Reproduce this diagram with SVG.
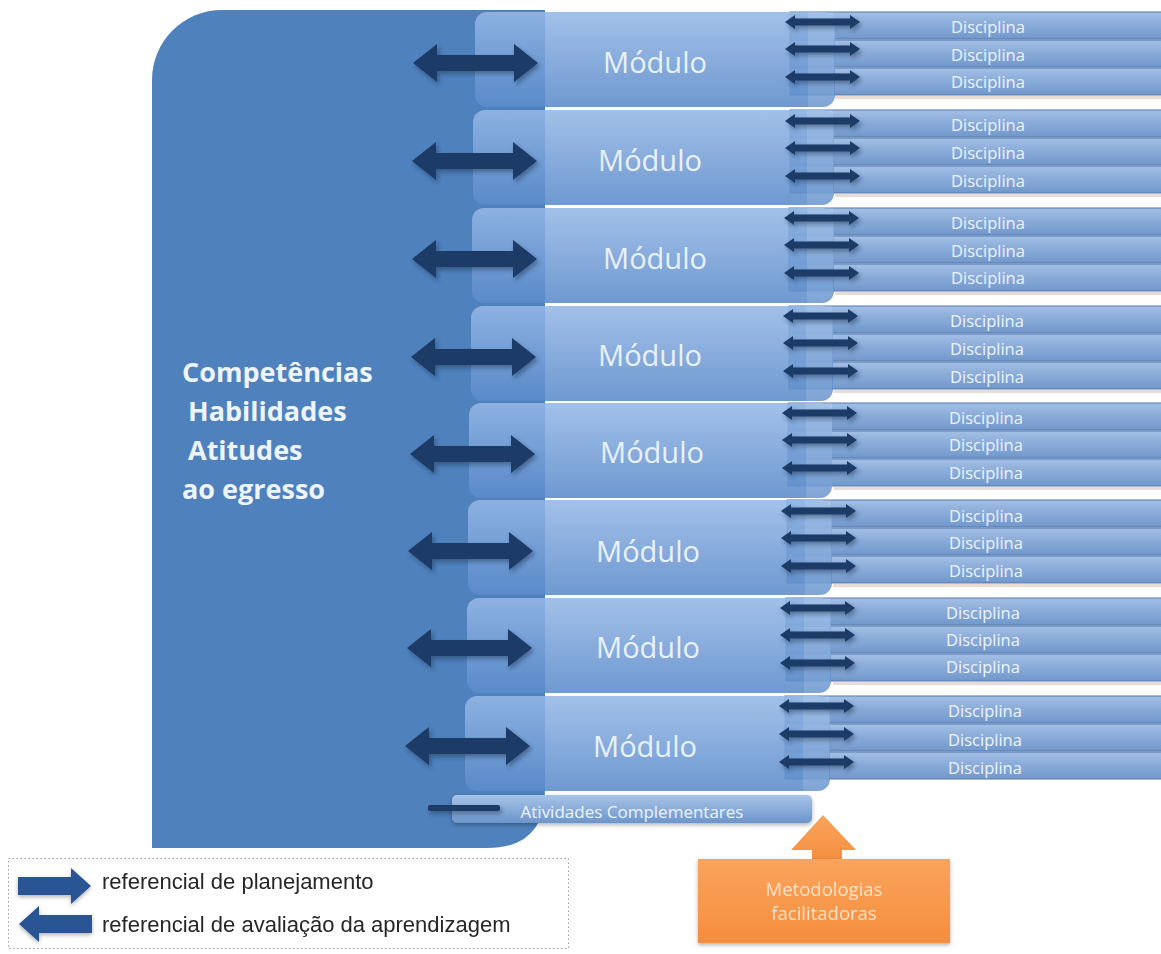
<svg xmlns="http://www.w3.org/2000/svg" xmlns:xlink="http://www.w3.org/1999/xlink" width="1161" height="954" viewBox="0 0 1161 954">
<defs>
<linearGradient id="gMod" x1="0" y1="0" x2="0" y2="1"><stop offset="0" stop-color="#95b8e6"/><stop offset="1" stop-color="#5b8bca"/></linearGradient>
<linearGradient id="gDis" x1="0" y1="0" x2="0" y2="1"><stop offset="0" stop-color="#a3c0e6"/><stop offset="0.5" stop-color="#88aad8"/><stop offset="1" stop-color="#7198cc"/></linearGradient>
<linearGradient id="gAt" x1="0" y1="0" x2="0" y2="1"><stop offset="0" stop-color="#a8c4e8"/><stop offset="1" stop-color="#6c95cb"/></linearGradient>
<linearGradient id="gOr" x1="0" y1="0" x2="0" y2="1"><stop offset="0" stop-color="#f9a45c"/><stop offset="1" stop-color="#f68e3e"/></linearGradient>
<filter id="sh" x="-20%" y="-50%" width="140%" height="220%"><feDropShadow dx="2" dy="3" stdDeviation="2" flood-color="#1a2a44" flood-opacity="0.45"/></filter>
<filter id="sh2" x="-10%" y="-20%" width="120%" height="150%"><feDropShadow dx="0" dy="2" stdDeviation="2" flood-color="#000" flood-opacity="0.3"/></filter>
<path id="bigArrow" d="M0,0 L24,-19 L24,-8 L101,-8 L101,-19 L125,0 L101,19 L101,8 L24,8 L24,19 Z"/>
<path id="smArrow" d="M0,0 L10,-7 L10,-3.5 L65,-3.5 L65,-7 L75,0 L65,7 L65,3.5 L10,3.5 L10,7 Z"/>
</defs>
<style>
.mod{fill:url(#gMod);opacity:0.88}
.band{fill:#ffffff;opacity:0.12}
.dis{fill:url(#gDis);stroke:#5479ae;stroke-width:1}
.gap{fill:#e9dcd5}
.big{fill:#1c3a66}
.sm{fill:#1c3a66}
.tMod{font-family:"Open Sans","DejaVu Sans",sans-serif;font-size:29px;fill:#e9f1fb;text-anchor:middle}
.tDis{font-family:"Open Sans","DejaVu Sans",sans-serif;font-size:16.5px;fill:#eef4fc;text-anchor:middle}
.tPan{font-family:"Open Sans","DejaVu Sans",sans-serif;font-size:27px;font-weight:bold;fill:#eef4fb}
.tLeg{font-family:"Liberation Sans",Arial,sans-serif;font-size:22px;fill:#262626}
.tOr{font-family:"Open Sans","DejaVu Sans",sans-serif;font-size:18.5px;fill:#fde3cc;text-anchor:middle}
.legA{fill:#2b5595}
</style>

<g id="panel">
<path d="M152,80 A70,70 0 0 1 222,10 L545,10 L545,790 Q545,848 487,848 L152,848 Z" fill="#4f81bd"/>
<text class="tPan" x="182" y="382">Competências</text>
<text class="tPan" x="188" y="421">Habilidades</text>
<text class="tPan" x="188" y="460">Atitudes</text>
<text class="tPan" x="182" y="499">ao egresso</text>
</g>

<g id="disciplinas">
<g id="d1"><rect class="gap" x="835" y="96" width="326" height="3"/><rect class="dis" x="790" y="12" width="380" height="27"/><rect class="dis" x="790" y="40" width="380" height="27"/><rect class="dis" x="790" y="68" width="380" height="27"/><text class="tDis" x="988" y="33">Disciplina</text><text class="tDis" x="988" y="61">Disciplina</text><text class="tDis" x="988" y="88">Disciplina</text></g>
<g id="d2"><rect class="gap" x="835" y="194" width="326" height="3"/><rect class="dis" x="790" y="110" width="380" height="27"/><rect class="dis" x="790" y="138" width="380" height="27"/><rect class="dis" x="790" y="166" width="380" height="27"/><text class="tDis" x="988" y="131">Disciplina</text><text class="tDis" x="988" y="159">Disciplina</text><text class="tDis" x="988" y="187">Disciplina</text></g>
<g id="d3"><rect class="gap" x="835" y="292" width="326" height="3"/><rect class="dis" x="789" y="208" width="380" height="27"/><rect class="dis" x="789" y="236" width="380" height="27"/><rect class="dis" x="789" y="264" width="380" height="27"/><text class="tDis" x="988" y="229">Disciplina</text><text class="tDis" x="988" y="257">Disciplina</text><text class="tDis" x="988" y="284">Disciplina</text></g>
<g id="d4"><rect class="gap" x="834" y="390" width="327" height="3"/><rect class="dis" x="789" y="306" width="380" height="27"/><rect class="dis" x="789" y="334" width="380" height="27"/><rect class="dis" x="789" y="362" width="380" height="27"/><text class="tDis" x="987" y="327">Disciplina</text><text class="tDis" x="987" y="355">Disciplina</text><text class="tDis" x="987" y="383">Disciplina</text></g>
<g id="d5"><rect class="gap" x="834" y="487" width="327" height="3"/><rect class="dis" x="788" y="403" width="380" height="27"/><rect class="dis" x="788" y="431" width="380" height="27"/><rect class="dis" x="788" y="459" width="380" height="27"/><text class="tDis" x="986" y="424">Disciplina</text><text class="tDis" x="986" y="451">Disciplina</text><text class="tDis" x="986" y="479">Disciplina</text></g>
<g id="d6"><rect class="gap" x="833" y="584" width="328" height="3"/><rect class="dis" x="787" y="500" width="380" height="27"/><rect class="dis" x="787" y="528" width="380" height="27"/><rect class="dis" x="787" y="556" width="380" height="27"/><text class="tDis" x="986" y="522">Disciplina</text><text class="tDis" x="986" y="549">Disciplina</text><text class="tDis" x="986" y="577">Disciplina</text></g>
<g id="d7"><rect class="gap" x="833" y="682" width="328" height="3"/><rect class="dis" x="786" y="598" width="380" height="27"/><rect class="dis" x="786" y="626" width="380" height="27"/><rect class="dis" x="786" y="654" width="380" height="27"/><text class="tDis" x="983" y="619">Disciplina</text><text class="tDis" x="983" y="646">Disciplina</text><text class="tDis" x="983" y="673">Disciplina</text></g>
<g id="d8"><rect class="dis" x="785" y="696" width="380" height="27"/><rect class="dis" x="785" y="724" width="380" height="27"/><rect class="dis" x="785" y="752" width="380" height="27"/><text class="tDis" x="985" y="717">Disciplina</text><text class="tDis" x="985" y="746">Disciplina</text><text class="tDis" x="985" y="774">Disciplina</text></g>
</g>

<g id="modulos">
<g id="m1"><rect class="mod" x="475" y="12" width="360" height="95" rx="12"/><rect class="band" x="808" y="12" width="26" height="95"/><text class="tMod" x="655" y="73">Módulo</text></g>
<g id="m2"><rect class="mod" x="473" y="110" width="361" height="95" rx="12"/><rect class="band" x="807" y="110" width="26" height="95"/><text class="tMod" x="650" y="171">Módulo</text></g>
<g id="m3"><rect class="mod" x="472" y="208" width="362" height="95" rx="12"/><rect class="band" x="807" y="208" width="26" height="95"/><text class="tMod" x="655" y="269">Módulo</text></g>
<g id="m4"><rect class="mod" x="471" y="306" width="362" height="95" rx="12"/><rect class="band" x="806" y="306" width="26" height="95"/><text class="tMod" x="650" y="366">Módulo</text></g>
<g id="m5"><rect class="mod" x="469" y="403" width="363" height="95" rx="12"/><rect class="band" x="806" y="403" width="26" height="95"/><text class="tMod" x="652" y="463">Módulo</text></g>
<g id="m6"><rect class="mod" x="468" y="500" width="364" height="95" rx="12"/><rect class="band" x="805" y="500" width="26" height="95"/><text class="tMod" x="648" y="562">Módulo</text></g>
<g id="m7"><rect class="mod" x="467" y="598" width="364" height="95" rx="12"/><rect class="band" x="804" y="598" width="26" height="95"/><text class="tMod" x="648" y="658">Módulo</text></g>
<g id="m8"><rect class="mod" x="465" y="696" width="365" height="95" rx="12"/><rect class="band" x="803" y="696" width="26" height="95"/><text class="tMod" x="645" y="757">Módulo</text></g>
</g>

<g id="atividades">
<rect x="452" y="795" width="360" height="28" rx="5" fill="url(#gAt)" filter="url(#sh2)"/>
<text class="tDis" x="632" y="818" style="font-size:17px">Atividades Complementares</text>
</g>

<g id="connectors" filter="url(#sh)">
<use href="#bigArrow" class="big" x="413" y="63"/>
<use href="#bigArrow" class="big" x="412" y="161"/>
<use href="#bigArrow" class="big" x="412" y="259"/>
<use href="#bigArrow" class="big" x="411" y="357"/>
<use href="#bigArrow" class="big" x="410" y="454"/>
<use href="#bigArrow" class="big" x="408" y="551"/>
<use href="#bigArrow" class="big" x="407" y="648"/>
<use href="#bigArrow" class="big" x="405" y="746"/>
<use href="#smArrow" class="sm" x="785" y="22"/><use href="#smArrow" class="sm" x="785" y="49"/><use href="#smArrow" class="sm" x="785" y="77"/>
<use href="#smArrow" class="sm" x="785" y="121"/><use href="#smArrow" class="sm" x="785" y="148"/><use href="#smArrow" class="sm" x="785" y="176"/>
<use href="#smArrow" class="sm" x="784" y="218"/><use href="#smArrow" class="sm" x="784" y="245"/><use href="#smArrow" class="sm" x="784" y="273"/>
<use href="#smArrow" class="sm" x="783" y="316"/><use href="#smArrow" class="sm" x="783" y="343"/><use href="#smArrow" class="sm" x="783" y="371"/>
<use href="#smArrow" class="sm" x="782" y="413"/><use href="#smArrow" class="sm" x="782" y="440"/><use href="#smArrow" class="sm" x="782" y="468"/>
<use href="#smArrow" class="sm" x="781" y="511"/><use href="#smArrow" class="sm" x="781" y="538"/><use href="#smArrow" class="sm" x="781" y="566"/>
<use href="#smArrow" class="sm" x="780" y="608"/><use href="#smArrow" class="sm" x="780" y="635"/><use href="#smArrow" class="sm" x="780" y="663"/>
<use href="#smArrow" class="sm" x="779" y="706"/><use href="#smArrow" class="sm" x="779" y="734"/><use href="#smArrow" class="sm" x="779" y="762"/>
<rect x="428" y="805" width="72" height="6" rx="2" fill="#1c3a66"/>
</g>

<g id="metodologias">
<path d="M823,815 L856,850 L842,850 L842,862 L812,862 L812,850 L791,850 Z" fill="url(#gOr)"/>
<rect x="698" y="859" width="252" height="84" fill="url(#gOr)" filter="url(#sh2)"/>
<text class="tOr" x="824" y="896">Metodologias</text>
<text class="tOr" x="824" y="920">facilitadoras</text>
</g>

<g id="legenda">
<rect x="8.5" y="858.5" width="560" height="90" fill="none" stroke="#9a9a9a" stroke-width="1" stroke-dasharray="1.5,2.5"/>
<path class="legA" d="M18,877 L71,877 L71,868 L91,886 L71,904 L71,895 L18,895 Z" filter="url(#sh2)"/>
<path class="legA" d="M92,915 L39,915 L39,906 L19,924 L39,942 L39,933 L92,933 Z" filter="url(#sh2)"/>
<text class="tLeg" x="102" y="889">referencial de planejamento</text>
<text class="tLeg" x="102" y="932">referencial de avaliação da aprendizagem</text>
</g>
</svg>
